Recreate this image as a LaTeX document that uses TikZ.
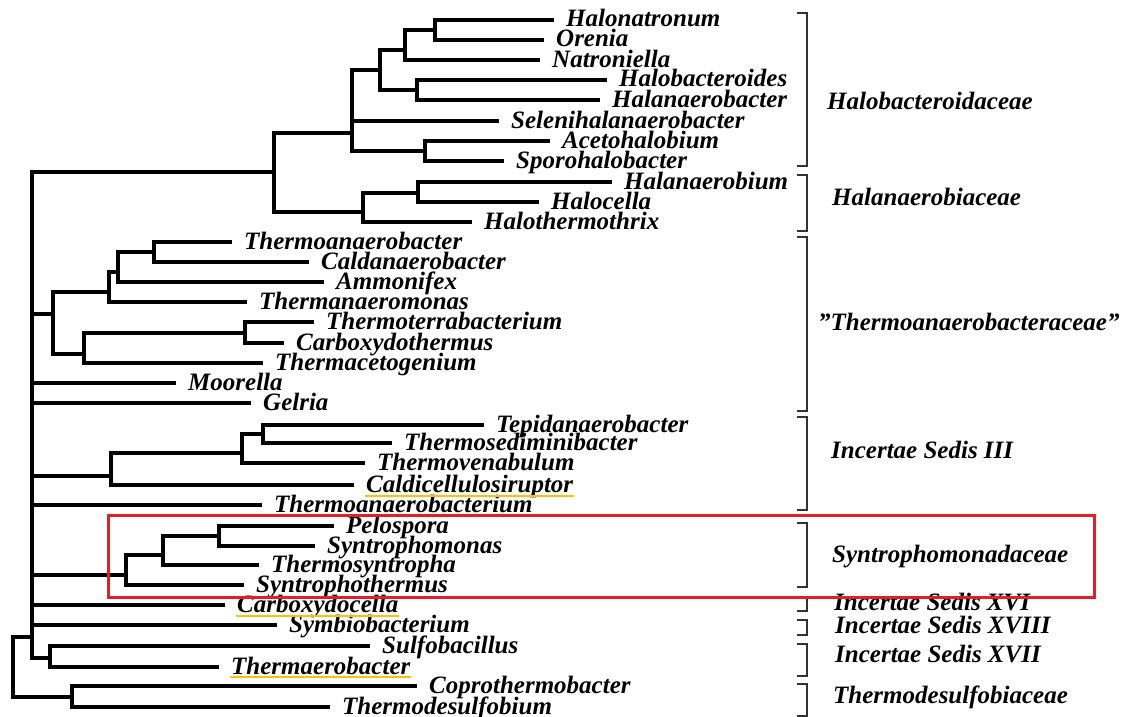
\documentclass[tikz,border=0pt]{standalone}
\usepackage{fontspec}
\setmainfont{Liberation Serif}
\definecolor{boxred}{RGB}{228,30,38}
\definecolor{hlorange}{RGB}{255,192,0}
\tikzset{
  br/.style={line width=3.3pt, line cap=rect, line join=miter},
  leaf/.style={anchor=base west, inner sep=0pt, font=\fontsize{25}{25}\selectfont\bfseries\itshape},
  fam/.style={anchor=base west, inner sep=0pt, font=\fontsize{25}{25}\selectfont\bfseries\itshape},
  brk/.style={line width=1.4pt, draw=black!80},
  hl/.style={draw=hlorange, line width=2.5pt, line cap=round},
  redbox/.style={draw=boxred, line width=3pt}
}
\newcommand\mkleaf[4]{\coordinate (#1) at (#2,#3);
  \node[leaf] (#1t) at ([shift={(14pt,-7pt)}]#1) {#4};}
\begin{document}
\begin{tikzpicture}[x=1pt,y=-1pt]
\useasboundingbox (0,0) rectangle (1138,717);
% leaves
\mkleaf{halon}{552}{20}{Halonatronum}
\mkleaf{oren}{542}{40}{Orenia}
\mkleaf{natr}{538}{60}{Natroniella}
\mkleaf{halob}{605}{80}{Halobacteroides}
\mkleaf{halanb}{598}{100}{Halanaerobacter}
\mkleaf{selen}{497}{121}{Selenihalanaerobacter}
\mkleaf{aceto}{548}{141}{Acetohalobium}
\mkleaf{sporo}{502}{161}{Sporohalobacter}
\mkleaf{halanbium}{610}{182}{Halanaerobium}
\mkleaf{haloc}{537}{202}{Halocella}
\mkleaf{halot}{470}{222}{Halothermothrix}
\mkleaf{thab}{230}{242}{Thermoanaerobacter}
\mkleaf{calda}{307}{262}{Caldanaerobacter}
\mkleaf{ammo}{322}{282}{Ammonifex}
\mkleaf{thman}{245}{302}{Thermanaeromonas}
\mkleaf{thter}{312}{322}{Thermoterrabacterium}
\mkleaf{carbt}{282}{343}{Carboxydothermus}
\mkleaf{thace}{261}{363}{Thermacetogenium}
\mkleaf{moor}{174}{383}{Moorella}
\mkleaf{gelr}{249}{403}{Gelria}
\mkleaf{tepid}{482}{425}{Tepidanaerobacter}
\mkleaf{thsed}{390}{443}{Thermosediminibacter}
\mkleaf{thven}{363}{463}{Thermovenabulum}
\mkleaf{caldi}{352}{485}{Caldicellulosiruptor}
\mkleaf{thabium}{260}{505}{Thermoanaerobacterium}
\mkleaf{pelo}{332}{526}{Pelospora}
\mkleaf{synm}{313}{546}{Syntrophomonas}
\mkleaf{thsyn}{257}{565}{Thermosyntropha}
\mkleaf{synth}{242}{585}{Syntrophothermus}
\mkleaf{carbc}{223}{605}{Carboxydocella}
\mkleaf{symb}{275}{625}{Symbiobacterium}
\mkleaf{sulfo}{368}{646}{Sulfobacillus}
\mkleaf{thaer}{217}{667}{Thermaerobacter}
\mkleaf{copro}{415}{686}{Coprothermobacter}
\mkleaf{thdes}{328}{707}{Thermodesulfobium}
% internal nodes (x, entry y)
\coordinate (R) at (13,667);
\coordinate (M) at (32,637);
\coordinate (Q) at (72,697);
\coordinate (H) at (274,172);
\coordinate (A) at (352,133);
\coordinate (A1) at (380,70);
\coordinate (A11) at (405,50);
\coordinate (A111) at (435,30);
\coordinate (A12) at (417,90);
\coordinate (A2) at (425,151);
\coordinate (B) at (363,212);
\coordinate (B1) at (418,193);
\coordinate (T) at (53,314);
\coordinate (T1) at (109,292);
\coordinate (T11) at (118,272);
\coordinate (T111) at (154,252);
\coordinate (T2) at (84,354);
\coordinate (T21) at (245,333);
\coordinate (I) at (111,476);
\coordinate (I1) at (242,453);
\coordinate (I11) at (263,434);
\coordinate (S) at (126,575);
\coordinate (S1) at (163,555);
\coordinate (S11) at (219,536);
\coordinate (X) at (50,658);
% edges
\draw[br] (M) -| (R) |- (Q);
\draw[br] (copro) -| (Q) |- (thdes);
\draw[br] (H) -| (M) |- (X);
\foreach \c in {T,moor,gelr,I,thabium,S,carbc,symb} \draw[br] (M |- \c) -- (\c);
\draw[br] (sulfo) -| (X) |- (thaer);
\draw[br] (A) -| (H) |- (B);
\draw[br] (A1) -| (A) |- (A2);
\draw[br] (A |- selen) -- (selen);
\draw[br] (A11) -| (A1) |- (A12);
\draw[br] (A111) -| (A11) |- (natr);
\draw[br] (halon) -| (A111) |- (oren);
\draw[br] (halob) -| (A12) |- (halanb);
\draw[br] (aceto) -| (A2) |- (sporo);
\draw[br] (B1) -| (B) |- (halot);
\draw[br] (halanbium) -| (B1) |- (haloc);
\draw[br] (T1) -| (T) |- (T2);
\draw[br] (T11) -| (T1) |- (thman);
\draw[br] (T111) -| (T11) |- (ammo);
\draw[br] (thab) -| (T111) |- (calda);
\draw[br] (T21) -| (T2) |- (thace);
\draw[br] (thter) -| (T21) |- (carbt);
\draw[br] (I1) -| (I) |- (caldi);
\draw[br] (I11) -| (I1) |- (thven);
\draw[br] (tepid) -| (I11) |- (thsed);
\draw[br] (S1) -| (S) |- (synth);
\draw[br] (S11) -| (S1) |- (thsyn);
\draw[br] (pelo) -| (S11) |- (synm);
% underlines
\draw[hl] ([yshift=-4pt]caldit.base west) -- ([yshift=-4pt]caldit.base east);
\draw[hl] ([yshift=-4pt]carbct.base west) -- ([yshift=-4pt]carbct.base east);
\draw[hl] ([yshift=-3pt]thaert.base west) -- ([yshift=-3pt]thaert.base east);
% family brackets
\foreach \a/\b in {13/166,175/231,237/411,417/510,523/587,598/611,620/635,644/676,684/716}
  \draw[brk] (797,\a) -- (807,\a) -- (807,\b) -- (797,\b);
\node[fam] (f1) at (827,110) {Halobacteroidaceae};
\node[fam] (f2) at (832,205) {Halanaerobiaceae};
\node[fam] (f3) at (818,330) {"Thermoanaerobacteraceae"};
\node[fam] (f4) at (831,458) {Incertae Sedis III};
\node[fam] (f5) at (832,562) {Syntrophomonadaceae};
\node[fam] (f6) at (834,610) {Incertae Sedis XVI};
\node[fam] (f7) at (835,633) {Incertae Sedis XVIII};
\node[fam] (f8) at (835,662) {Incertae Sedis XVII};
\node[fam] (f9) at (833,703) {Thermodesulfobiaceae};
% red highlight box
\draw[redbox] (108,515) rectangle (1094,597);
\end{tikzpicture}
\end{document}
